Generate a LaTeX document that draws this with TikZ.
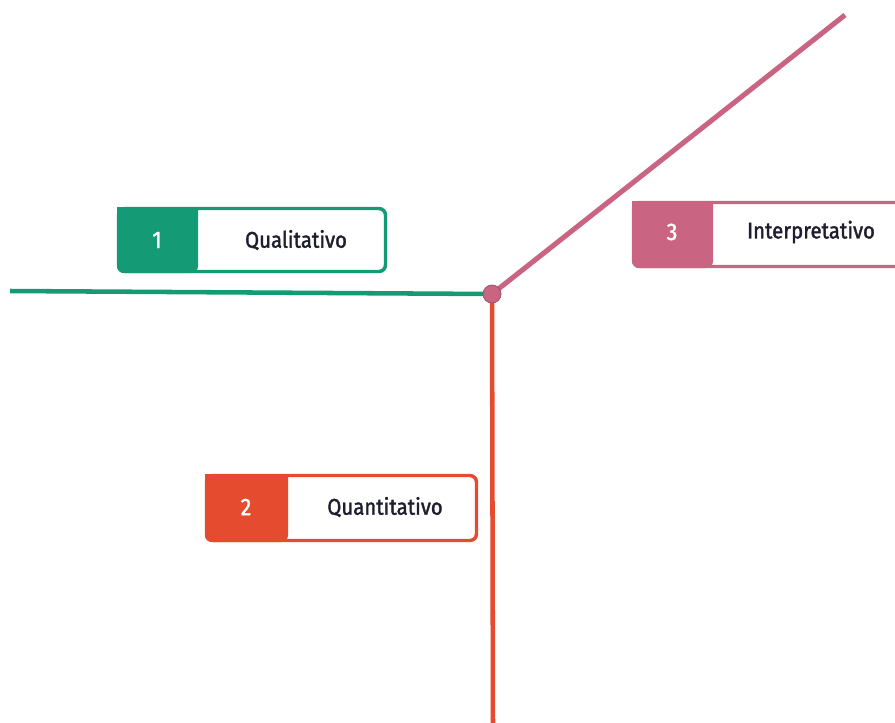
\documentclass[tikz,border=0pt]{standalone}
\usepackage{fontspec}
\setmainfont[FakeStretch=0.9,FakeBold=1.6]{Fira Sans}
\definecolor{cgreen}{HTML}{149A74}
\definecolor{cred}{HTML}{E44B2F}
\definecolor{cpink}{HTML}{C96583}
\definecolor{cdark}{HTML}{1E1E2E}
\begin{document}
\begin{tikzpicture}[x=0.75pt,y=-0.75pt,
  lineg/.style={line width=3.4pt},
  tag/.style={line width=2.6pt, rounded corners=5pt},
  num/.style={text=white, font=\fontsize{18}{20}\selectfont},
  lbl/.style={text=cdark, font=\fontsize{17}{20}\selectfont}]
\useasboundingbox (0,0) rectangle (895,722);
\clip (0,0) rectangle (895,722);
% connector lines
\coordinate (hub) at (492,294);
\coordinate (gend) at (10,291);
\coordinate (rend) at (493,730);
\coordinate (pend) at (845,15);
\draw[lineg, cgreen] (gend) -- (hub);
\draw[lineg, cred] (hub) -- (rend);
\draw[line width=3.8pt, cpink] (hub) -- (pend);
\node[circle, fill=cpink, draw=cpink!80!black, line width=0.6pt, minimum size=13.5pt, inner sep=0pt] (dot) at (hub) {};
% box 1
\draw[tag, draw=cgreen, fill=white] (118.5,208.5) rectangle (385.5,271.5);
\fill[cgreen, rounded corners=5pt] (117,207) -- (117,273) -- (198,273) [sharp corners] -- (198,207) -- cycle;
\node[num] (n1) at (157,240) {1};
\node[lbl] (l1) at (296,240) {Qualitativo};
% box 2
\draw[tag, draw=cred, fill=white] (206.5,475.5) rectangle (476.5,540.5);
\fill[cred, rounded corners=5pt] (205,474) -- (205,542) -- (288,542) [sharp corners] -- (288,474) -- cycle;
\node[num] (n2) at (246,507) {2};
\node[lbl] (l2) at (385,507) {Quantitativo};
% box 3
\draw[tag, draw=cpink, fill=white] (633.5,202.5) rectangle (905,266.5);
\fill[cpink, rounded corners=5pt] (632,201) -- (632,268) -- (713,268) [sharp corners] -- (713,201) -- cycle;
\node[num] (n3) at (672,232) {3};
\node[lbl] (l3) at (811,232) {Interpretativo};
\end{tikzpicture}
\end{document}
